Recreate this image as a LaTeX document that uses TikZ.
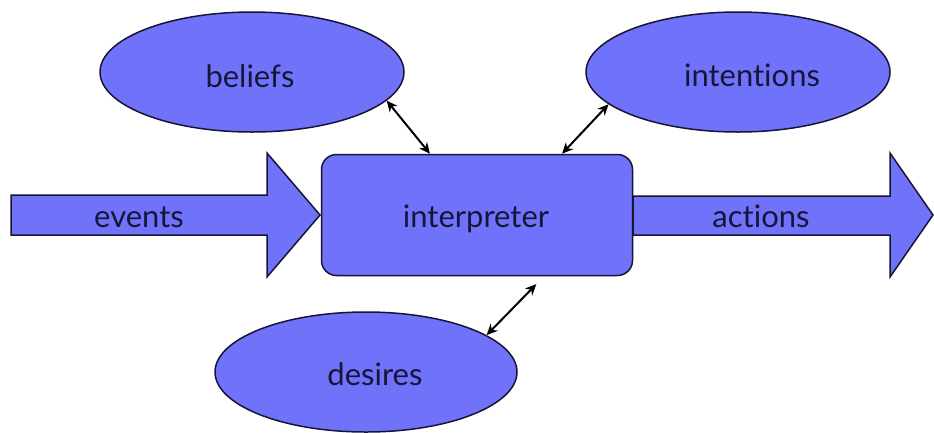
\documentclass[tikz,border=0pt]{standalone}
\usepackage{fontspec}
\setmainfont{Lato}[Ligatures={NoCommon}]
\usetikzlibrary{shapes.geometric,arrows.meta,calc}
\definecolor{blobfill}{RGB}{112,114,250}
\definecolor{blobline}{RGB}{22,22,52}
\definecolor{labeltext}{RGB}{22,22,56}
\tikzset{
  blob/.style={ellipse, draw=blobline, fill=blobfill, line width=1.5pt,
               minimum width=#1, minimum height=120pt, inner sep=0pt},
  core/.style={rectangle, rounded corners=15pt, draw=blobline, fill=blobfill,
               line width=1.5pt, minimum width=311pt, minimum height=121pt, inner sep=0pt},
  flow/.style={draw=blobline, fill=blobfill, line width=1.5pt, line join=miter},
  lbl/.style={text=labeltext, font=\fontsize{31}{33}\selectfont, anchor=base, inner sep=0pt},
  link/.style={{Stealth[length=11pt,width=10pt]}-{Stealth[length=11pt,width=10pt]}, line width=2pt, black}
}
\begin{document}
\begin{tikzpicture}[x=1pt,y=-1pt]
  \useasboundingbox (0,0) rectangle (934,432);
  \fill[white] (0,0) rectangle (934,432);

  % input and output arrows
  \draw[flow] (11,195) -- (267,195) -- (267,153) -- (320,215) -- (267,277)
              -- (267,235) -- (11,235) -- cycle;
  \draw[flow] (633,196) -- (890,196) -- (890,153) -- (933,215) -- (890,277)
              -- (890,235) -- (633,235) -- cycle;

  % central box and the three stores
  \node[core] (interp) at (477,215) {};
  \node[blob=304pt] (beliefs) at (252,72) {};
  \node[blob=304pt] (intentions) at (738,72) {};
  \node[blob=302pt] (desires) at (366,372) {};

  % labels
  \node[lbl] (tevents) at (139,227) {events};
  \node[lbl] (tactions) at (761,227) {actions};
  \node[lbl] (tinterp) at (476,227) {interpreter};
  \node[lbl] (tbeliefs) at (250,87) {beliefs};
  \node[lbl] (tintentions) at (752,86) {intentions};
  \node[lbl] (tdesires) at (375,385) {desires};

  % two-way links
  \draw[link] (beliefs.-12) -- ([xshift=-47pt]interp.north);
  \draw[link] (intentions.194) -- ([xshift=85pt]interp.north);
  \draw[link, shorten >=11pt] (desires.17) -- ([xshift=67pt]interp.south);
\end{tikzpicture}
\end{document}
